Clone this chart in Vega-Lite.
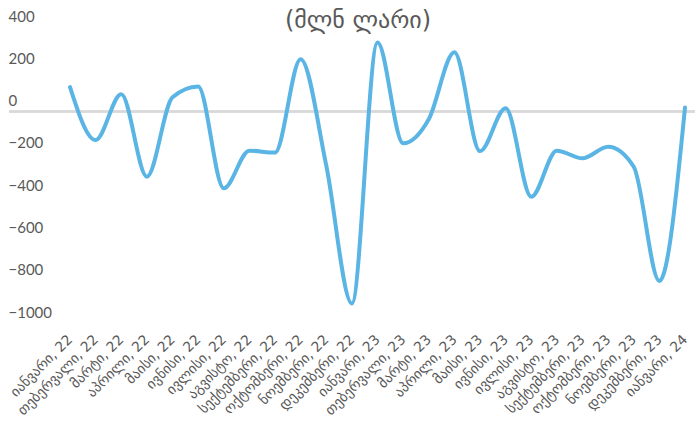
{
  "$schema": "https://vega.github.io/schema/vega-lite/v6.json",
  "width": 686,
  "height": 296,
  "autosize": "none",
  "padding": {"left": 9, "top": 27, "right": 0, "bottom": 109},
  "background": "white",
  "title": {
    "text": "(მლნ ლარი)",
    "fontSize": 24,
    "font": "DejaVu Sans",
    "fontWeight": "normal",
    "color": "#595959",
    "anchor": "middle",
    "baseline": "middle",
    "offset": -36,
    "dx": 6
  },
  "config": {"view": {"stroke": null}},
  "data": {
    "values": [
      {"month": "იანვარი, 22", "value": 116},
      {"month": "თებერვალი, 22", "value": -135},
      {"month": "მარტი, 22", "value": 82},
      {"month": "აპრილი, 22", "value": -308},
      {"month": "მაისი, 22", "value": 68},
      {"month": "ივნისი, 22", "value": 119},
      {"month": "ივლისი, 22", "value": -363},
      {"month": "აგვისტო, 22", "value": -185},
      {"month": "სექტემბერი, 22", "value": -194},
      {"month": "ოქტომბერი, 22", "value": 248},
      {"month": "ნოემბერი, 22", "value": -255},
      {"month": "დეკემბერი, 22", "value": -908},
      {"month": "იანვარი, 23", "value": 327},
      {"month": "თებერვალი, 23", "value": -150},
      {"month": "მარტი, 23", "value": -36},
      {"month": "აპრილი, 23", "value": 280},
      {"month": "მაისი, 23", "value": -187},
      {"month": "ივნისი, 23", "value": 16},
      {"month": "ივლისი, 23", "value": -403},
      {"month": "აგვისტო, 23", "value": -185},
      {"month": "სექტემბერი, 23", "value": -221},
      {"month": "ოქტომბერი, 23", "value": -166},
      {"month": "ნოემბერი, 23", "value": -261},
      {"month": "დეკემბერი, 23", "value": -801},
      {"month": "იანვარი, 24", "value": 19}
    ]
  },
  "layer": [
    {
      "mark": {"type": "rule", "color": "#d9d9d9", "strokeWidth": 1.5},
      "encoding": {"y": {"datum": 0, "type": "quantitative", "scale": {"domain": [-1000, 400], "nice": false, "zero": false}}}
    },
    {
      "mark": {"type": "line", "interpolate": "monotone", "color": "#5AB5E5", "strokeWidth": 4, "strokeCap": "round"},
      "encoding": {
        "x": {
          "field": "month",
          "type": "ordinal",
          "sort": null,
          "scale": {"type": "point", "padding": 0, "range": [61, 676]},
          "axis": {
            "title": null,
            "domain": false,
            "ticks": false,
            "grid": false,
            "labelAngle": -45,
            "labelAlign": "right",
            "labelBaseline": "middle",
            "labelPadding": 14,
            "labelFont": "DejaVu Sans",
            "labelFontSize": 14,
            "labelColor": "#595959",
            "labelOverlap": false,
            "labelLimit": 300
          }
        },
        "y": {
          "field": "value",
          "type": "quantitative",
          "scale": {"domain": [-1000, 400], "nice": false, "zero": false},
          "axis": {
            "title": null,
            "domain": false,
            "ticks": false,
            "grid": false,
            "format": "d",
            "values": [-1000, -800, -600, -400, -200, 0, 200, 400],
            "labelAlign": "left",
            "labelPadding": 1,
            "labelOffset": -11,
            "labelFont": "Lato",
            "labelFontSize": 15,
            "labelColor": "#595959"
          }
        }
      }
    }
  ]
}
